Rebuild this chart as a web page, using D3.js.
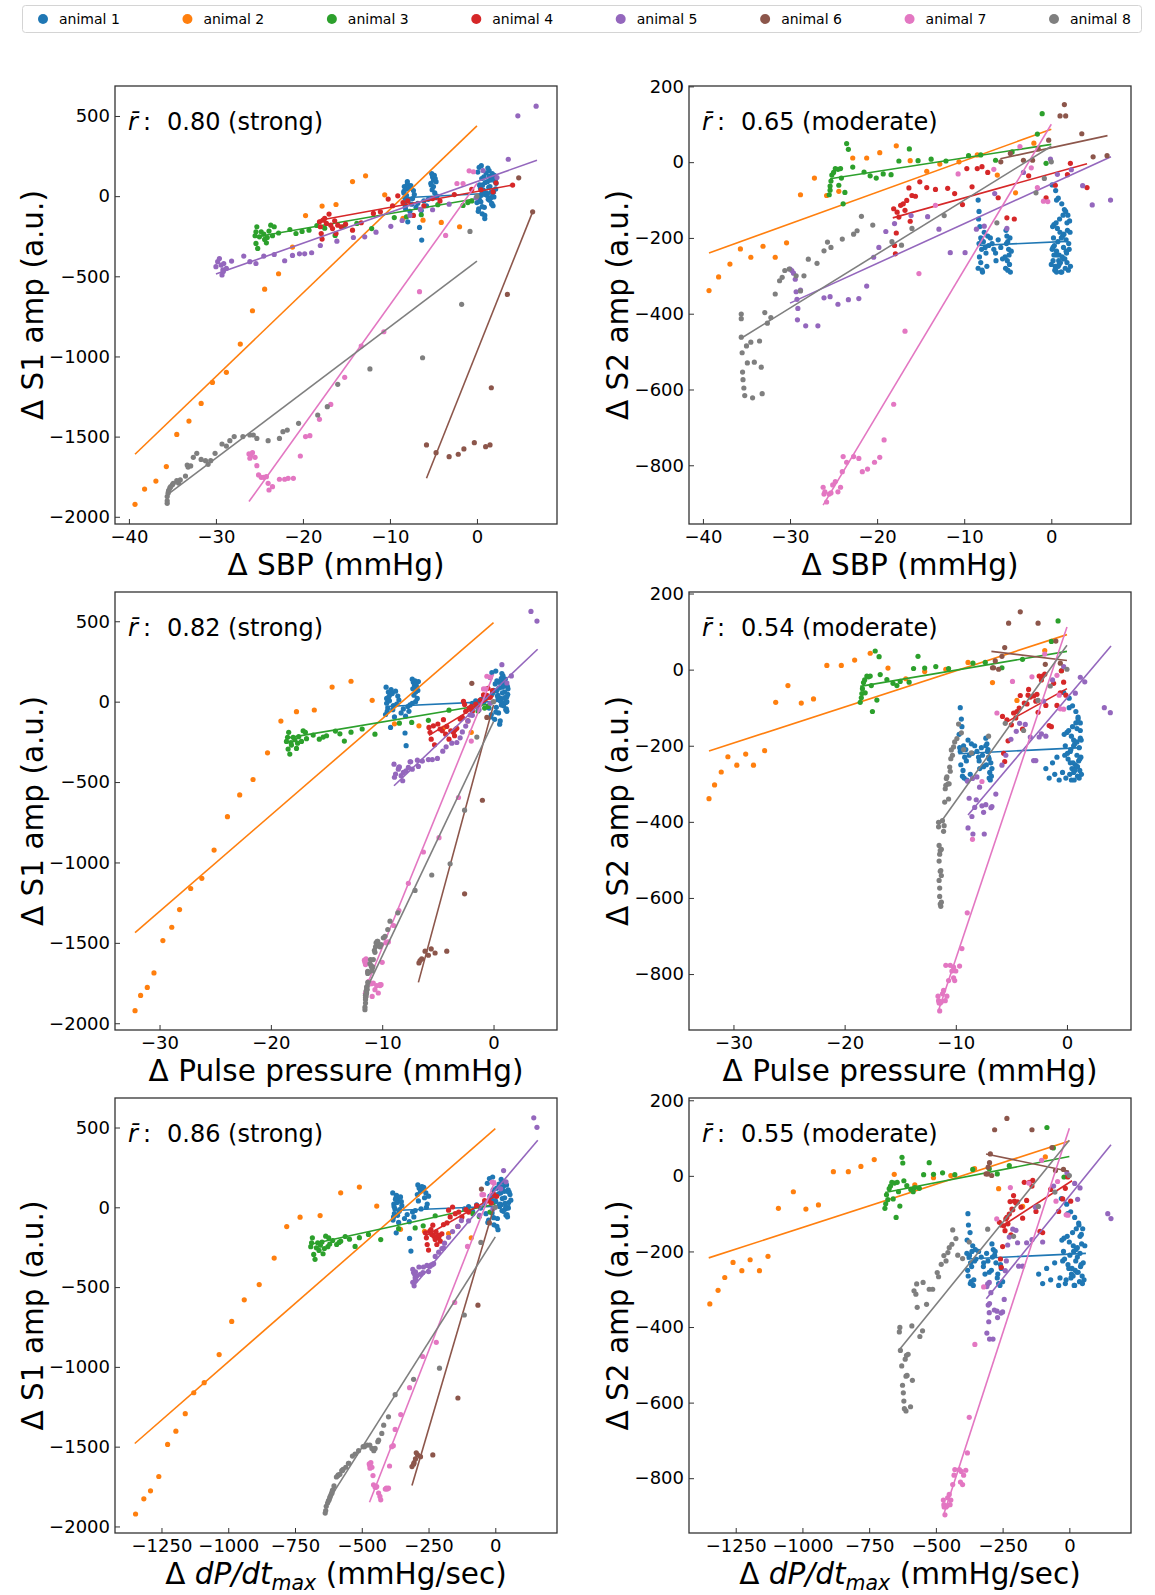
<!DOCTYPE html>
<html>
<head>
<meta charset="utf-8">
<script src="https://cdn.jsdelivr.net/npm/d3@7"></script>
<style>
body { margin: 0; background: #fff; }
svg { font-family: "DejaVu Sans", sans-serif; }
</style>
</head>
<body>
<svg id="chart" width="1155" height="1595"></svg>
<script>
// categories
const animals = ["animal 1", "animal 2", "animal 3", "animal 4", "animal 5", "animal 6", "animal 7", "animal 8"];
const colors = ["#1f77b4", "#ff7f0e", "#2ca02c", "#d62728", "#9467bd", "#8c564b", "#e377c2", "#7f7f7f"];

// animal 1 (first 42 = early cluster, rest = late cluster)
const sbp1 = [-8.4,-8.3,-8.35,-8.2,-8.1,-8.3,-8.0,-8.25,-8.4,-7.9,-7.8,-7.7,-8.1,-7.6,-7.5,-8.0,-7.4,-7.3,-7.95,-7.2,-6.6,-6.35,-7.0,-6.8,-6.4,-6.1,-5.8,-5.6,-5.2,-5.1,-5.0,-4.9,-5.3,-4.8,-5.0,-4.7,-5.15,-4.85,-5.05,-4.75,-5.25,-4.6,
  0.1,0.5,0.8,1.2,1.5,1.9,2.1,0.3,0.7,1.0,1.3,1.7,2.0,0.2,0.6,0.9,1.4,1.8,2.2,0.4,1.1,1.6,0.0,0.85,1.25,1.75,2.05,0.35,0.75,1.15,1.45,1.85,0.15,0.55,0.95,1.35,1.65,1.95,0.45,1.05,1.55,0.65,1.2,1.7,0.25,2.15,0.9,1.4,1.8,0.6,0.2,0.5,0.3,0.8,0.1,0.6];
const pp1 = [-9.6,-9.5,-9.45,-9.7,-9.3,-9.6,-9.2,-9.55,-9.4,-9.0,-9.1,-8.9,-9.35,-8.8,-9.05,-9.65,-8.7,-8.6,-9.25,-8.5,-7.95,-7.85,-8.3,-8.1,-7.9,-7.7,-7.6,-7.5,-7.3,-7.2,-7.1,-7.05,-7.25,-6.95,-7.0,-6.9,-7.15,-6.85,-6.75,-7.3,-6.8,-7.0,
  -0.3,0.2,0.5,0.8,1.0,1.2,0.9,0.0,0.4,0.6,0.7,1.1,0.3,-0.2,0.1,0.55,0.85,1.15,1.3,-0.1,0.65,0.95,-0.4,0.45,0.75,1.05,1.25,0.05,0.35,0.6,0.9,1.2,-0.25,0.15,0.5,0.8,1.0,1.1,0.25,0.7,0.95,0.3,0.4,1.15,-0.15,1.28,0.6,0.9,1.2,0.2,-1.9,-1.6,-1.3,-1.1,-0.9,-0.7];
const dpdt1 = [-380,-378,-372,-383,-365,-376,-370,-381,-368,-360,-374,-362,-379,-355,-366,-384,-358,-352,-371,-350,-321,-316,-340,-330,-322,-310,-305,-300,-290,-285,-280,-275,-292,-270,-265,-260,-288,-255,-268,-278,-250,-258,
  -30,-10,5,20,35,50,45,-20,0,15,25,40,30,-25,-5,10,28,48,55,-15,18,38,-35,8,22,42,52,-18,2,16,30,46,-28,-8,12,26,36,49,-12,14,33,-2,20,44,-22,58,6,24,40,-6,-115,-100,-85,-70,-55,-40];
const s1_1 = [20,-40,60,-80,45,-10,75,-60,30,-25,50,-95,5,65,-50,90,-15,35,-160,10,-195,-274,-70,-45,-90,-30,-60,-20,140,120,100,130,80,110,60,90,40,20,125,-10,70,0,
  150,190,120,90,60,30,100,70,40,10,-20,-50,130,-80,-110,-140,160,110,80,50,20,-10,-40,-70,175,140,95,65,35,5,-25,-60,-95,110,85,55,25,-5,-35,145,100,70,15,-45,180,45,-120,125,0,-65,-10,5,-25,15,-5,25];
const s2_1 = [-100,-130,-150,-170,-200,-215,-230,-250,-280,-290,-210,-185,-265,-225,-240,-205,-275,-195,-285,-220,-230,-260,-200,-215,-240,-205,-225,-255,-180,-195,-210,-230,-250,-270,-285,-290,-215,-245,-260,-200,-280,-235,
  -60,-75,-95,-110,-125,-140,-155,-165,-175,-185,-195,-205,-215,-225,-235,-245,-255,-265,-275,-285,-290,-280,-270,-260,-250,-240,-230,-220,-210,-200,-190,-180,-170,-160,-150,-140,-130,-285,-275,-265,-255,-245,-290,-235,-200,-185,-270,-225,-160,-100,-260,-285,-245,-275,-230,-290];

// animal 2
const sbp2 = [-39.3,-38.2,-36.9,-35.7,-34.5,-33.1,-31.7,-30.4,-28.8,-27.2,-25.8,-24.4,-22.8,-21.2,-19.7,-17.8,-16.2,-14.3,-12.8,-10.6,-8.5,-6.2,-4.1,-2.0];
const pp2 = [-32.2,-31.7,-31.1,-30.5,-29.7,-28.9,-28.2,-27.2,-26.2,-25.1,-23.9,-22.8,-21.6,-20.3,-19.1,-17.7,-16.1,-14.5,-12.8,-10.9,-8.9,-6.7,-4.5,-2.0];
const dpdt2 = [-1347,-1316,-1291,-1260,-1227,-1196,-1161,-1129,-1090,-1034,-987,-940,-884,-828,-781,-731,-656,-579,-509,-444,-355,-265,-175,-90];
const s1_2 = [-1922,-1827,-1777,-1687,-1486,-1403,-1293,-1162,-1099,-923,-715,-580,-484,-318,-121,-62,-52,91,127,8,-138,-150,-164,-191];
const s2_2 = [-339,-303,-269,-229,-251,-222,-251,-213,-86,-42,-88,-77,11,11,25,43,4,-24,-5,1,19,-34,-81,50];

// animal 3
const sbp3 = [-25.5,-25.4,-25.4,-25.3,-25.2,-25.0,-24.8,-24.5,-24.2,-24.1,-24.4,-23.9,-23.7,-23.5,-23.3,-22.8,-21.5,-20.8,-20.1,-19.3,-18.4,-17.5,-16.3,-15.3,-13.8,-12.1,-9.5,-8.1,-6.4,-4.5,-1.6,-1.05,-0.6];
const pp3 = [-18.6,-18.5,-18.45,-18.4,-18.3,-18.2,-18.0,-17.85,-17.7,-17.6,-18.15,-17.5,-17.1,-17.25,-16.9,-16.8,-16.2,-15.65,-15.3,-15.0,-14.2,-13.8,-13.4,-12.8,-11.8,-10.65,-8.46,-7.35,-5.85,-4.0,-1.4,-0.8,-0.5];
const dpdt3 = [-691,-688,-680,-685,-675,-670,-665,-655,-645,-640,-660,-649,-635,-627,-624,-620,-609,-594,-585,-579,-562,-546,-525,-509,-475,-429,-362,-300,-270,-225,-60,-84,-20];
const s1_3 = [-247,-222,-295,-191,-326,-254,-222,-237,-291,-258,-270,-218,-181,-247,-191,-230,-208,-233,-220,-212,-183,-200,-245,-190,-170,-202,-134,-129,-116,-53,-58,-40,-30];
const s2_3 = [-86,-74,-63,-50,-34,-27,-17,-19,-17,-42,-61,-110,-80,49,34,-13,-26,-36,-42,-31,-33,3,35,4,8,3,17,19,5,27,74,128,-3];

// animal 4
const sbp4 = [-18.1,-18.0,-17.9,-17.8,-17.7,-17.5,-17.3,-17.0,-16.8,-16.6,-16.35,-16.2,-16.0,-15.6,-15.1,-14.3,-13.3,-11.9,-11.1,-10.2,-9.7,-9.1,-8.5,-7.96,-7.3,-6.1,-5.1,-4.25,-2.6,-0.6,0.46,1.85,2.19,4.1];
const pp4 = [-5.8,-5.7,-5.6,-5.3,-5.4,-5.0,-4.8,-4.5,-4.6,-4.3,-4.2,-4.0,-3.84,-3.6,-3.45,-3.5,-3.3,-3.0,-2.8,-2.6,-2.5,-2.7,-2.2,-2.0,-2.3,-1.9,-1.6,-1.4,-1.2,-0.9,-0.6,-0.3,-0.5,-0.1];
const dpdt4 = [-262,-258,-255,-250,-246,-241,-238,-234,-230,-225,-222,-219,-215,-212,-209,-206,-200,-194,-181,-175,-169,-160,-150,-137,-140,-125,-110,-100,-70,-40,-25,-15,-6,5];
const s1_4 = [-160,-191,-233,-268,-150,-139,-170,-112,-181,-202,-154,-233,-181,-191,-175,-212,-166,-108,-98,-18,-60,2,-40,-30,-120,-60,-15,-30,10,42,40,27,83,69];
const s2_4 = [-123,-220,-242,-187,-132,-145,-114,-110,-127,-101,-68,-156,-88,-90,-52,-67,-72,-69,-83,-112,-17,-65,-17,-12,-27,-94,-147,-150,-36,-94,-61,-33,-3,-67];

// animal 5
const sbp5 = [-30.0,-29.8,-29.6,-29.4,-29.3,-29.2,-29.1,-29.15,-28.8,-28.2,-26.8,-26.1,-25.4,-24.5,-23.3,-22.1,-21.2,-20.4,-19.8,-19.0,-18.0,-16.1,-14.2,-12.9,-11.6,-9.9,-8.6,-7.7,-6.5,-5.1,-3.2,-0.1,0.7,2.3,3.6,4.7,6.8];
const pp5 = [-8.1,-8.5,-8.94,-7.86,-8.16,-8.3,-8.55,-8.9,-8.8,-8.46,-7.44,-7.65,-7.3,-7.5,-6.84,-6.75,-6.4,-5.85,-5.5,-5.04,-4.56,-4.26,-3.75,-3.3,-3.0,-2.8,-2.5,-2.3,-2.1,-1.9,-1.3,-0.3,1.6,1.2,0.75,3.9,3.36];
const dpdt5 = [-300,-306,-309,-294,-304,-300,-302,-309,-299,-299,-286,-271,-281,-269,-256,-250,-244,-240,-236,-231,-225,-212,-200,-194,-190,-175,-160,-140,-127,-100,-59,-9,40,20,31,156,144];
const s1_5 = [-440,-409,-389,-430,-492,-460,-420,-470,-450,-405,-374,-409,-420,-374,-364,-403,-370,-360,-360,-353,-308,-281,-258,-254,-225,-188,-152,-120,-83,-85,-50,-10,160,116,230,501,561];
const s2_5 = [-282,-286,-293,-309,-342,-362,-386,-416,-338,-432,-432,-358,-355,-375,-363,-360,-327,-251,-225,-183,-162,-141,-144,-177,-239,-239,-177,-169,-83,-175,-27,8,-32,-20,-62,-113,-100];

// animal 6
const sbp6 = [-5.8,-4.7,-3.2,-2.15,-1.5,-0.3,1.0,1.5,1.65,3.5,4.8,6.4];
const pp6 = [-6.15,-6.45,-6.7,-6.6,-5.85,-5.6,-5.25,-4.2,-2.6,-1.0,-1.95,-0.6];
const dpdt6 = [-291,-304,-312,-306,-299,-296,-280,-234,-140,-65,-52,-22];
const s1_6 = [-1552,-1600,-1625,-1610,-1577,-1538,-1563,-1552,-1195,-613,114,-98];
const s2_6 = [1,23,5,5,35,58,122,152,122,75,14,17];

// animal 7
const sbp7 = [-26.2,-26.1,-26.0,-25.8,-25.5,-25.3,-25.1,-24.8,-24.5,-24.2,-24.0,-23.9,-23.5,-22.7,-22.1,-21.7,-21.1,-20.3,-19.7,-19.2,-18.1,-16.8,-15.2,-13.3,-10.7,-6.6,-3.6,-2.3,-1.6,-0.9,-0.4];
const pp7 = [-11.6,-11.5,-11.55,-11.45,-11.4,-11.3,-11.2,-11.1,-10.95,-10.8,-10.65,-10.9,-10.35,-10.5,-10.2,-10.1,-10.2,-10.0,-9.66,-9.45,-8.97,-8.5,-7.65,-6.3,-4.9,-3.15,-2.0,-0.9,-0.7,-0.6,-0.3];
const dpdt7 = [-472,-469,-470,-466,-462,-458,-456,-450,-447,-444,-437,-429,-432,-412,-405,-400,-408,-396,-388,-382,-375,-354,-321,-272,-221,-152,-104,-44,-50,-12,-5];
const s1_7 = [-1608,-1635,-1620,-1600,-1629,-1681,-1739,-1754,-1754,-1750,-1791,-1833,-1812,-1766,-1766,-1760,-1760,-1621,-1500,-1494,-1392,-1299,-1130,-935,-846,-596,-245,79,79,158,152];
const s2_7 = [-858,-876,-870,-897,-876,-873,-852,-843,-870,-858,-817,-777,-792,-777,-782,-817,-810,-792,-779,-733,-639,-446,-294,-114,-31,-19,41,-15,-67,-103,-104];

// animal 8
const sbp8 = [-35.6,-35.6,-35.6,-35.5,-35.45,-35.4,-35.3,-35.2,-35.0,-34.9,-34.5,-34.3,-34.1,-33.5,-33.3,-33.2,-32.9,-32.6,-32.2,-31.7,-31.2,-30.9,-30.6,-30.1,-29.3,-28.8,-28.4,-27.9,-26.9,-26.1,-25.7,-25.3,-24.0,-22.7,-22.3,-21.8,-20.5,-18.3,-17.2,-16.0,-12.3,-6.25,-1.76,-0.8,0];
const pp8 = [-11.55,-11.55,-11.5,-11.5,-11.5,-11.45,-11.45,-11.4,-11.45,-11.4,-11.4,-11.35,-11.35,-11.3,-11.3,-11.3,-11.2,-11.1,-11.05,-11.0,-10.95,-10.9,-10.85,-10.8,-10.7,-10.65,-10.6,-10.55,-10.5,-10.45,-10.4,-10.3,-10.2,-10.1,-9.9,-9.75,-9.5,-9.3,-8.6,-7.05,-5.55,-3.9,-2.6,-1.5,0];
const dpdt8 = [-637,-635,-633,-628,-625,-622,-620,-618,-615,-612,-610,-612,-608,-604,-588,-595,-590,-560,-550,-570,-575,-582,-572,-548,-525,-535,-512,-495,-490,-480,-470,-462,-455,-450,-440,-437,-425,-418,-400,-375,-306,-209,-116,-54,0];
const s1_8 = [-1916,-1900,-1874,-1853,-1840,-1833,-1820,-1812,-1800,-1791,-1775,-1790,-1770,-1746,-1677,-1690,-1683,-1629,-1604,-1642,-1650,-1673,-1650,-1604,-1546,-1559,-1525,-1500,-1500,-1490,-1490,-1511,-1525,-1511,-1469,-1459,-1417,-1365,-1313,-1174,-1078,-1008,-675,-220,0];
const s2_8 = [-413,-401,-462,-503,-554,-574,-596,-616,-485,-530,-475,-622,-528,-472,-541,-611,-397,-425,-410,-348,-313,-304,-286,-282,-300,-340,-300,-256,-267,-234,-211,-225,-203,-190,-181,-143,-166,-210,-219,-175,-141,-160,-81,-43,1];

// regression lines per panel, one per animal: [x start, y start, x end, y end]
const fitSbpS1 = [[-8.4,-10,2.2,20],[-39.3,-1610,0,438],[-25.5,-255,0,-15],[-18.1,-150,4.1,69],[-30,-486,6.9,224],[-5.8,-1760,6.4,-98],[-26.2,-1905,0,79],[-35.6,-1864,0,-405]];
const fitSbpS2 = [[-8.5,-220,1.8,-209],[-39.3,-240,0,87],[-25.4,-44,0,47],[-18.2,-147,4.1,-4],[-30,-372,6.85,14],[-5.85,9,6.45,70],[-26.2,-905,0,100],[-35.7,-466,0,42]];
const fitPpS1 = [[-9.7,-30,1.2,5],[-32.2,-1436,0,492],[-18.6,-227,0,-10],[-5.8,-210,0,35],[-8.94,-523,3.96,326],[-6.75,-1746,0,-20],[-11.7,-1820,0,170],[-11.7,-1830,0,-124]];
const fitPpS2 = [[-9.75,-221,1.35,-205],[-32.2,-214,0,92],[-18.6,-44,0,48],[-5.7,-142,0,-50],[-8.9,-382,3.96,62],[-6.8,48,0,24],[-11.55,-895,0,112],[-11.55,-409,0,64]];
const fitDpdtS1 = [[-381,-20,56,10],[-1350,-1480,0,493],[-691,-231,0,21],[-262,-180,5,75],[-309,-500,159,420],[-312,-1743,-5,0],[-471,-1848,0,170],[-637,-1869,0,-185]];
const fitDpdtS2 = [[-384,-220,62,-205],[-1351,-217,0,92],[-690,-44,0,51],[-259,-136,10,-13],[-311,-325,156,82],[-312,58,-2,12],[-471,-897,0,126],[-637,-460,0,94]];

// mean correlation texts
const rTexts = ["0.80 (strong)", "0.65 (moderate)", "0.82 (strong)", "0.54 (moderate)", "0.86 (strong)", "0.55 (moderate)"];

// tick labels
const sbpTicks = [-40, -30, -20, -10, 0];
const ppTicks = [-30, -20, -10, 0];
const dpdtTicks = [-1250, -1000, -750, -500, -250, 0];
const s1Ticks = [500, 0, -500, -1000, -1500, -2000];
const s2Ticks = [200, 0, -200, -400, -600, -800];

const sbpAll = [sbp1, sbp2, sbp3, sbp4, sbp5, sbp6, sbp7, sbp8];
const ppAll = [pp1, pp2, pp3, pp4, pp5, pp6, pp7, pp8];
const dpdtAll = [dpdt1, dpdt2, dpdt3, dpdt4, dpdt5, dpdt6, dpdt7, dpdt8];
const s1All = [s1_1, s1_2, s1_3, s1_4, s1_5, s1_6, s1_7, s1_8];
const s2All = [s2_1, s2_2, s2_3, s2_4, s2_5, s2_6, s2_7, s2_8];

const svg = d3.select("#chart");
const FONT = "DejaVu Sans";

// legend
const leg = svg.append("g");
leg.append("rect")
    .attr("x", 22.5).attr("y", 5.5).attr("width", 1119).attr("height", 27).attr("rx", 3)
    .attr("fill", "#fff").attr("stroke", "#d4d4d4");
const legX = d3.scalePoint().domain(animals).range([43, 1054]);
animals.forEach((a, i) => {
    leg.append("circle").attr("cx", legX(a)).attr("cy", 19).attr("r", 5).attr("fill", colors[i]);
    leg.append("text").attr("x", legX(a) + 16).attr("y", 24)
        .attr("font-size", 14).attr("fill", "#000").text(a);
});

// layout
const colL = [115, 689], colR = [557, 1131];
const rowT = [86, 592, 1098], rowB = [524, 1030, 1533];
const yLabX = [43, 628];

const panels = [
    {xs: sbpAll, ys: s1All, fit: fitSbpS1, xd: [-41.6, 9.2], yd: [-2045, 687], xt: sbpTicks, yt: s1Ticks, col: 0, row: 0, lab: 0, yl: 0},
    {xs: sbpAll, ys: s2All, fit: fitSbpS2, xd: [-41.6, 9.15], yd: [-955, 201], xt: sbpTicks, yt: s2Ticks, col: 1, row: 0, lab: 0, yl: 1},
    {xs: ppAll, ys: s1All, fit: fitPpS1, xd: [-34.0, 5.7], yd: [-2042, 682], xt: ppTicks, yt: s1Ticks, col: 0, row: 1, lab: 1, yl: 0},
    {xs: ppAll, ys: s2All, fit: fitPpS2, xd: [-34.0, 5.76], yd: [-947, 204], xt: ppTicks, yt: s2Ticks, col: 1, row: 1, lab: 1, yl: 1},
    {xs: dpdtAll, ys: s1All, fit: fitDpdtS1, xd: [-1424, 231], yd: [-2041, 685], xt: dpdtTicks, yt: s1Ticks, col: 0, row: 2, lab: 2, yl: 0},
    {xs: dpdtAll, ys: s2All, fit: fitDpdtS2, xd: [-1425, 231], yd: [-945, 206], xt: dpdtTicks, yt: s2Ticks, col: 1, row: 2, lab: 2, yl: 1}
];

panels.forEach((p, k) => {
    const L = colL[p.col], R = colR[p.col], T = rowT[p.row], B = rowB[p.row];
    const x = d3.scaleLinear().domain(p.xd).range([L, R]);
    const y = d3.scaleLinear().domain(p.yd).range([B, T]);
    const g = svg.append("g");

    svg.append("clipPath").attr("id", "clip" + k)
        .append("rect").attr("x", L).attr("y", T).attr("width", R - L).attr("height", B - T);
    const plot = g.append("g").attr("clip-path", `url(#clip${k})`);

    animals.forEach((a, i) => {
        const pts = p.xs[i].map((v, j) => [v, p.ys[i][j]]);
        plot.append("g").selectAll("circle")
            .data(pts)
            .join("circle")
            .attr("cx", d => x(d[0]))
            .attr("cy", d => y(d[1]))
            .attr("r", 2.6)
            .attr("fill", colors[i]);
        const f = p.fit[i];
        plot.append("line")
            .attr("x1", x(f[0])).attr("y1", y(f[1]))
            .attr("x2", x(f[2])).attr("y2", y(f[3]))
            .attr("stroke", colors[i]).attr("stroke-width", 1.6);
    });

    // axes, ticks pointing inward
    const ax = g.append("g").attr("transform", `translate(0,${B})`)
        .call(d3.axisBottom(x).tickValues(p.xt).tickFormat(d3.format("d")).tickSize(-5).tickPadding(6));
    const ay = g.append("g").attr("transform", `translate(${L},0)`)
        .call(d3.axisLeft(y).tickValues(p.yt).tickFormat(d3.format("d")).tickSize(-5).tickPadding(5));
    [ax, ay].forEach(a => {
        a.select(".domain").remove();
        a.attr("font-size", 18).attr("font-family", FONT);
        a.selectAll("line").attr("stroke", "#333").attr("stroke-width", 1);
        a.selectAll("text").attr("fill", "#000");
    });

    g.append("rect")
        .attr("x", L).attr("y", T).attr("width", R - L).attr("height", B - T)
        .attr("fill", "none").attr("stroke", "#333").attr("stroke-width", 1.3);

    // r-bar annotation
    g.append("text").attr("x", L + 13).attr("y", T + 44).attr("font-size", 24)
        .attr("font-style", "italic").text("r\u0304");
    g.append("text").attr("x", L + 28).attr("y", T + 44).attr("font-size", 24).text(":");
    g.append("text").attr("x", L + 52).attr("y", T + 44).attr("font-size", 24).text(rTexts[k]);

    // x label
    const xl = g.append("text")
        .attr("x", (L + R) / 2).attr("y", B + 51)
        .attr("text-anchor", "middle").attr("font-size", 29.5);
    if (p.lab === 0) xl.text("Δ SBP (mmHg)");
    else if (p.lab === 1) xl.text("Δ Pulse pressure (mmHg)");
    else {
        xl.append("tspan").text("Δ ");
        xl.append("tspan").attr("font-style", "italic").text("dP/dt");
        xl.append("tspan").attr("font-style", "italic").attr("font-size", 20.5).attr("dy", 6).text("max");
        xl.append("tspan").attr("dy", -6).text(" (mmHg/sec)");
    }

    // y label
    g.append("text")
        .attr("transform", `translate(${yLabX[p.col]},${(T + B) / 2}) rotate(-90)`)
        .attr("text-anchor", "middle").attr("font-size", 29.5)
        .text(p.yl === 0 ? "Δ S1 amp (a.u.)" : "Δ S2 amp (a.u.)");
});
</script>
</body>
</html>
